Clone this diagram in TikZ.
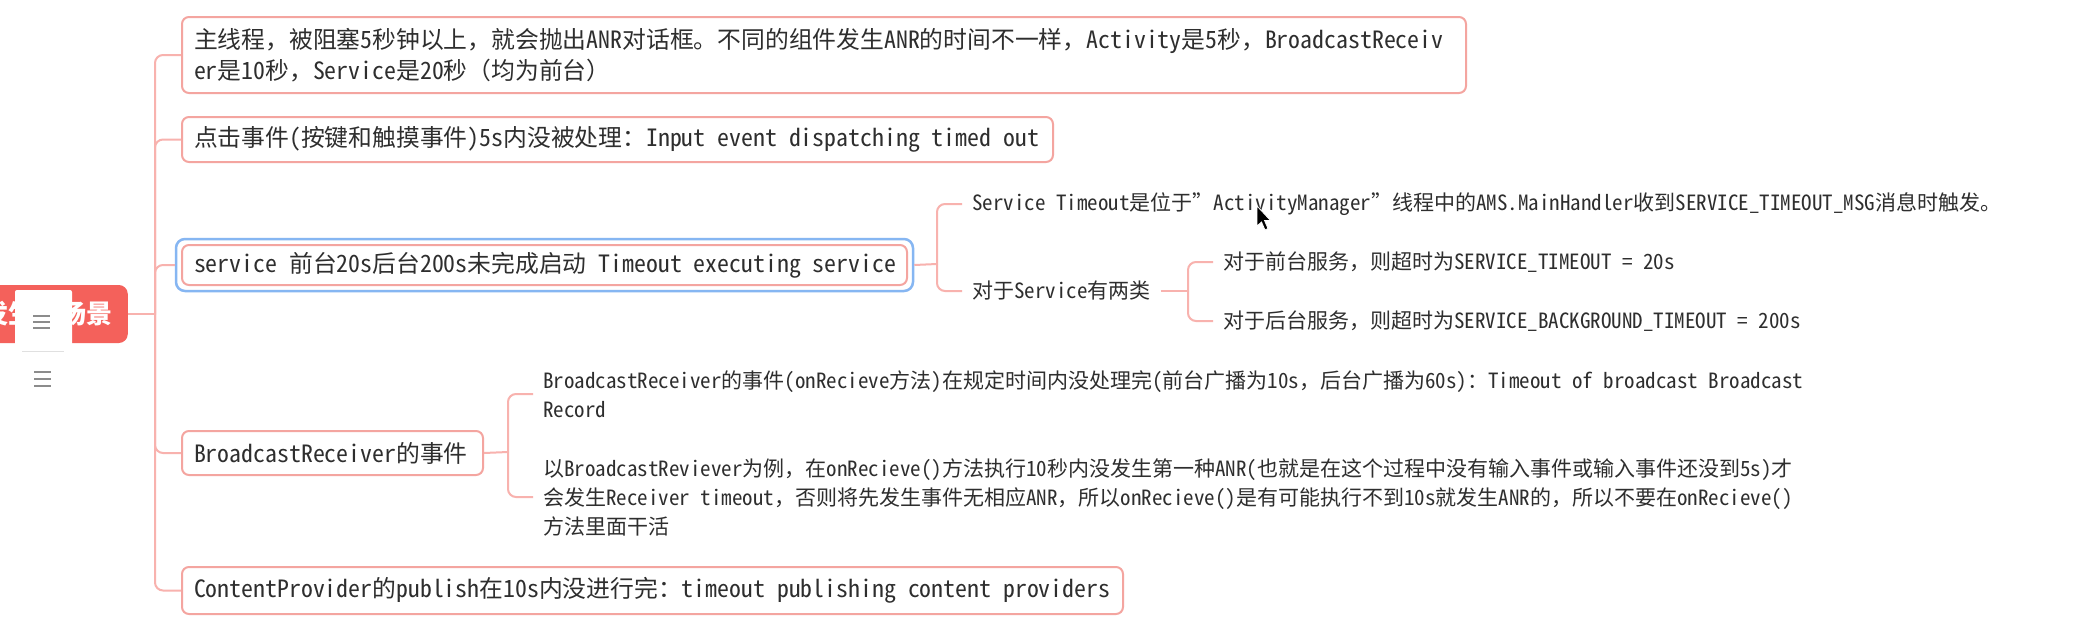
\documentclass[tikz,border=0pt]{standalone}
\usepackage{fontspec}
\newfontfamily\cjkfont{Noto Sans CJK SC}
\newfontfamily\latfont{Noto Sans CJK SC}[CharacterWidth=Half]
\usetikzlibrary{fit}
% full-width punctuation keeps the CJK (full-width) forms
\newXeTeXintercharclass\pcls
\XeTeXcharclass"3001=\pcls
\XeTeXcharclass"3002=\pcls
\XeTeXcharclass"FF0C=\pcls
\XeTeXcharclass"FF1A=\pcls
\XeTeXcharclass"FF08=\pcls
\XeTeXcharclass"FF09=\pcls
\XeTeXcharclass"201C=\pcls
\XeTeXcharclass"201D=\pcls
\XeTeXinterchartoks 0 \pcls={\cjkfont}
\XeTeXinterchartoks 4095 \pcls={\cjkfont}
\XeTeXinterchartoks \pcls 0={\latfont}
\XeTeXinterchartoks \pcls 4095={\latfont}
\XeTeXinterchartokenstate=1
\definecolor{rootred}{HTML}{F4615B}
\definecolor{linepink}{HTML}{F8B2AE}
\definecolor{boxpink}{HTML}{F4A5A0}
\definecolor{selblue}{HTML}{86B6F2}
\definecolor{txt}{HTML}{2E2E2E}
\definecolor{icongray}{HTML}{8C8C8C}
\newcommand\mainfs{\latfont\fontsize{23.8}{31}\selectfont}
\newcommand\subfs{\latfont\fontsize{21}{29}\selectfont}
\newcommand\rootfs{\cjkfont\bfseries\fontsize{26}{30}\selectfont}
\tikzset{
  topic/.style={draw=boxpink, line width=2pt, rounded corners=7pt, fill=white,
    anchor=north west, inner xsep=12pt, inner ysep=0pt, align=left, font=\mainfs, text=txt,
    execute at begin node={\spaceskip=11.9pt\relax}},
  leaf/.style={anchor=west, inner xsep=10pt, inner ysep=2pt, align=left, font=\subfs, text=txt},
  conn/.style={draw=linepink, line width=2pt, rounded corners=8pt},
  rootbox/.style={fill=rootred, rounded corners=9pt, text=white, font=\rootfs,
    anchor=east, minimum width=160pt, minimum height=58pt, inner sep=0pt},
  selbox/.style={draw=selblue, line width=2.5pt, rounded corners=9pt, inner sep=5pt},
}
\begin{document}
\begin{tikzpicture}[x=1pt,y=-1pt]
\useasboundingbox (0,0) rectangle (2088,624);
\fill[white] (0,0) rectangle (2088,624);

% root
\node[rootbox] (root) at (128,314) {发生的场景};

% main topics
\node[topic, text width=1260pt, minimum height=76pt] (b1) at (181,16)
  {\mbox{主线程，被阻塞5秒钟以上，就会抛出ANR对话框。不同的组件发生ANR的时间不一样，Activity是5秒，BroadcastReceiv}\\\mbox{er是10秒，Service是20秒（均为前台）}};
\node[topic, text width=847pt, minimum height=45pt] (b2) at (181,116)
  {\mbox{点击事件(按键和触摸事件)5s内没被处理：Input event dispatching timed out}};
\node[topic, text width=701pt, minimum height=40pt] (b3) at (181,244)
  {\mbox{service 前台20s后台200s未完成启动 Timeout executing service}};
\node[selbox, fit=(b3)] (b3sel) {};
\node[topic, text width=277pt, minimum height=44pt] (b4) at (181,430)
  {\mbox{BroadcastReceiver的事件}};
\node[topic, text width=917pt, minimum height=47pt] (b5) at (181,566)
  {\mbox{ContentProvider的publish在10s内没进行完：timeout publishing content providers}};

% service children
\node[leaf] (c1) at (962,204) {Service Timeout是位于”ActivityManager”线程中的AMS.MainHandler收到SERVICE\_TIMEOUT\_MSG消息时触发。};
\node[leaf] (c2) at (962,291) {对于Service有两类};
\node[leaf] (g1) at (1213,262) {对于前台服务，则超时为SERVICE\_TIMEOUT = 20s};
\node[leaf] (g2) at (1213,321) {对于后台服务，则超时为SERVICE\_BACKGROUND\_TIMEOUT = 200s};

% broadcast children
\node[leaf] (d1) at (533,394) {BroadcastReceiver的事件(onRecieve方法)在规定时间内没处理完(前台广播为10s，后台广播为60s)：Timeout of broadcast Broadcast\\Record};
\node[leaf] (d2) at (533,497) {以BroadcastReviever为例，在onRecieve()方法执行10秒内没发生第一种ANR(也就是在这个过程中没有输入事件或输入事件还没到5s)才\\会发生Receiver timeout，否则将先发生事件无相应ANR，所以onRecieve()是有可能执行不到10s就发生ANR的，所以不要在onRecieve()\\方法里面干活};

% connectors
\coordinate (sp) at (155,314);
\draw[conn] (root.east) -- (sp);
\foreach \n in {b1,b2,b3sel,b4,b5} \draw[conn] (sp) |- (\n.west);
\coordinate (sp3) at (937,264);
\draw[conn] (b3sel.east) -- (sp3);
\draw[conn] (sp3) |- (c1.west);
\draw[conn] (sp3) |- (c2.west);
\coordinate (sp4) at (1188,291);
\draw[conn] (c2.east) -- (sp4);
\draw[conn] (sp4) |- (g1.west);
\draw[conn] (sp4) |- (g2.west);
\coordinate (sp5) at (508,452);
\draw[conn] (b4.east) -- (sp5);
\draw[conn] (sp5) |- (d1.west);
\draw[conn] (sp5) |- (d2.west);

% sidebar overlay on the root
\fill[white, rounded corners=2pt] (15,290) rectangle (72,351);
\draw[black!12, line width=0.8pt] (22,351) -- (64,351);
\draw[icongray, line width=1.3pt] (33,316) -- (50,316) (33,322) -- (50,322) (33,328) -- (50,328);
\draw[icongray, line width=1.3pt] (34,372) -- (51,372) (34,379) -- (51,379) (34,386) -- (51,386);

% mouse cursor
\filldraw[fill=black, draw=white, line width=0.8pt] (1257,206) -- (1257,226) -- (1261.5,222) -- (1265,230) -- (1268,228.5) -- (1264.5,220.5) -- (1270.5,220.5) -- cycle;
\end{tikzpicture}
\end{document}
